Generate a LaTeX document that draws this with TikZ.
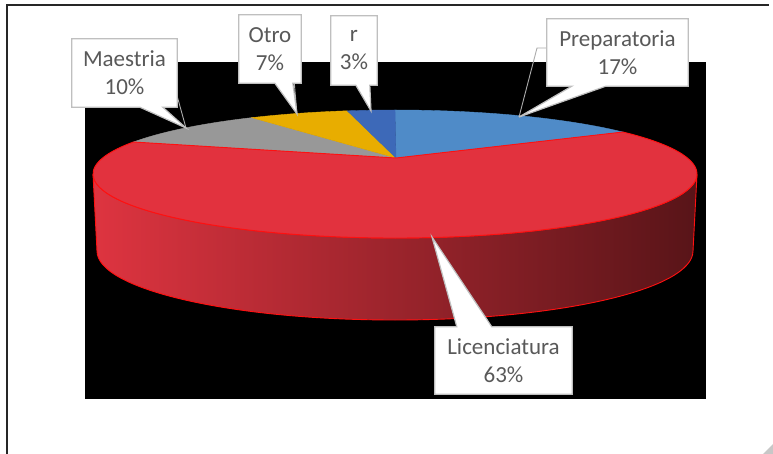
\documentclass[tikz,border=0pt]{standalone}
\usepackage{fontspec}
\setmainfont{Carlito}
\usetikzlibrary{calc}

\definecolor{prepblue}{RGB}{79,139,200}
\definecolor{rblue}{RGB}{61,105,184}
\definecolor{gold}{RGB}{232,173,0}
\definecolor{greyslice}{RGB}{152,152,152}
\definecolor{redtop}{RGB}{226,50,62}
\definecolor{redline}{RGB}{255,16,16}
\definecolor{sideL}{RGB}{222,52,64}
\definecolor{sideM}{RGB}{168,36,46}
\definecolor{sideR}{RGB}{88,20,24}
\definecolor{boxline}{RGB}{191,191,191}
\definecolor{labeltext}{RGB}{89,89,89}
\definecolor{framecol}{RGB}{38,38,38}

\tikzset{
  calloutbox/.style={draw=none, inner sep=0pt, minimum width=#1},
  callout/.style={fill=white, draw=boxline, line width=1.2pt, line join=miter},
  leader/.style={draw=boxline!90!black, line width=0.9pt},
  lbl/.style={text=labeltext, font=\fontsize{23}{28}\selectfont, align=center, inner sep=0pt},
  slice/.style={line width=0.4pt, draw=#1, fill=#1},
}

\begin{document}
\begin{tikzpicture}[x=1pt, y=-1pt]
\useasboundingbox (0,0) rectangle (773,454);
\fill[white] (0,0) rectangle (773,454);

% outer frame (left and top edges)
\draw[framecol, line width=1.3pt] (7,454) -- (7,5) -- (769,5);
% resize grip
\fill[black!22] (763,454) -- (773,444) -- (773,454) -- cycle;

% plot area
\fill[black] (85,62) rectangle (706,399);

% ---- pie geometry ----
\coordinate (apex) at (396,158);
\coordinate (topc) at (395,174);
\coordinate (botc) at (395,251);

% front wall of the Licenciatura slice
\shade[left color=sideL, middle color=sideM, right color=sideR]
  ($(topc)+(0:302 and 64)$) arc[start angle=0, end angle=180, x radius=302, y radius=64]
  -- ($(botc)+(180:298 and 69)$) arc[start angle=180, end angle=0, x radius=298, y radius=69]
  -- cycle;
\draw[redline, line width=0.9pt]
  ($(topc)+(0:302 and 64)$) arc[start angle=0, end angle=180, x radius=302, y radius=64]
  -- ($(botc)+(180:298 and 69)$) arc[start angle=180, end angle=0, x radius=298, y radius=69]
  -- cycle;

% top faces
\path[slice=prepblue] (apex) -- ($(topc)+(-90:302 and 64)$)
  arc[start angle=-90, end angle=-41, x radius=302, y radius=64] -- cycle;
\path[slice=greyslice] (apex) -- ($(topc)+(210:302 and 64)$)
  arc[start angle=210, end angle=241.7, x radius=302, y radius=64] -- cycle;
\path[slice=gold] (apex) -- ($(topc)+(241.7:302 and 64)$)
  arc[start angle=241.7, end angle=260.9, x radius=302, y radius=64] -- cycle;
\path[slice=rblue] (apex) -- ($(topc)+(260.9:302 and 64)$)
  arc[start angle=260.9, end angle=270, x radius=302, y radius=64] -- cycle;
\filldraw[fill=redtop, draw=redline, line width=0.9pt] (apex) -- ($(topc)+(-41:302 and 64)$)
  arc[start angle=-41, end angle=210, x radius=302, y radius=64] -- cycle;

% ---- data labels ----
\node[calloutbox=141pt, minimum height=67pt] (prep) at (617.5,52.5) {};
\node[calloutbox=105pt, minimum height=68pt] (maes) at (124.5,73) {};
\node[calloutbox=62pt,  minimum height=68pt] (otro) at (270,49) {};
\node[calloutbox=46pt,  minimum height=69pt] (rr)   at (354,50.5) {};
\node[calloutbox=137pt, minimum height=67pt] (lic)  at (503.5,360.5) {};

\coordinate (tipPrep) at (519,117);
\coordinate (tipMaes) at (186,128);
\coordinate (tipOtro) at (297,114);
\coordinate (tipR)    at (371,111);
\coordinate (tipLic)  at (432,237);

% leader lines
\draw[leader] (tipPrep) -- (537,48) -- (prep.west |- 0,48);
\draw[leader] (tipMaes) -- (176,92);
\draw[leader] (tipOtro) -- (294,80);

% callout outlines
\path[callout] (prep.north west) -- (prep.north east) -- (prep.south east)
  -- ($(prep.south west)+(59,0)$) -- (tipPrep) -- ($(prep.south west)+(25,0)$)
  -- (prep.south west) -- cycle;
\path[callout] (maes.north west) -- (maes.north east) -- (maes.south east)
  -- ($(maes.south west)+(91,0)$) -- (tipMaes) -- ($(maes.south west)+(68,0)$)
  -- (maes.south west) -- cycle;
\path[callout] (otro.north west) -- (otro.north east) -- (otro.south east)
  -- ($(otro.south west)+(54,0)$) -- (tipOtro) -- ($(otro.south west)+(36,0)$)
  -- (otro.south west) -- cycle;
\path[callout] (rr.north west) -- (rr.north east) -- (rr.south east)
  -- ($(rr.south west)+(39,0)$) -- (tipR) -- ($(rr.south west)+(25,0)$)
  -- (rr.south west) -- cycle;
\path[callout] (lic.south west) -- (lic.south east) -- (lic.north east)
  -- ($(lic.north west)+(57,0)$) -- (tipLic) -- ($(lic.north west)+(22,0)$)
  -- (lic.north west) -- cycle;

% label texts
\node[lbl] (prepText) at (prep) {Preparatoria\\17\%};
\node[lbl] (maesText) at (maes) {Maestria\\10\%};
\node[lbl] (otroText) at (otro) {Otro\\7\%};
\node[lbl] (rText)    at (rr)   {r\\3\%};
\node[lbl] (licText)  at (lic)  {Licenciatura\\63\%};
\end{tikzpicture}
\end{document}
